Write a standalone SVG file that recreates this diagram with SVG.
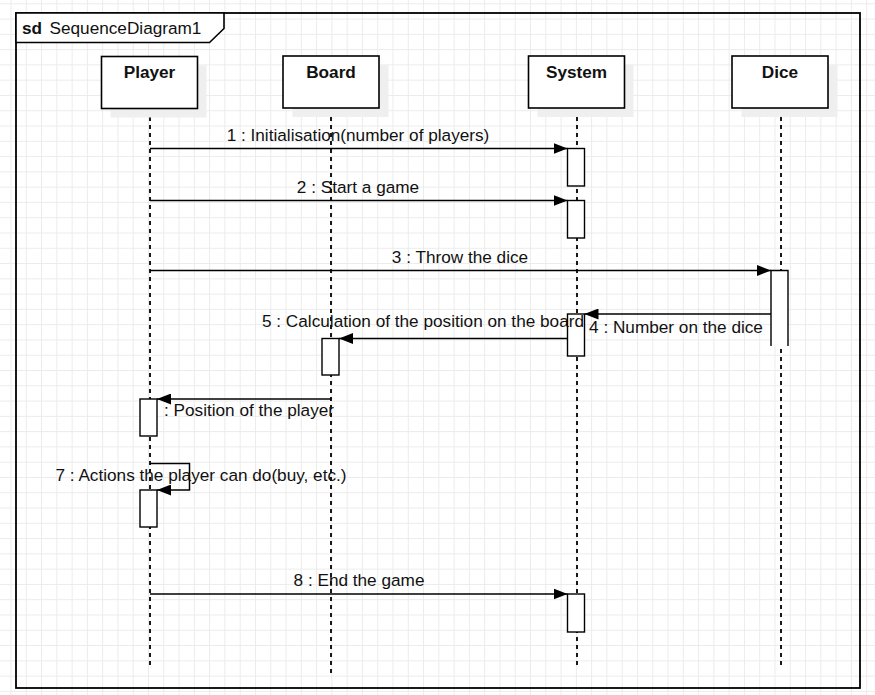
<svg xmlns="http://www.w3.org/2000/svg" width="875" height="695" viewBox="0 0 875 695">
<style>
  .t { font-family: "Liberation Sans", Arial, sans-serif; font-size: 17.2px; fill: #111; }
  .b { font-weight: bold; }
  .m { text-anchor: middle; }
  .box { fill: #fff; stroke: #000; stroke-width: 1.6; }
  .sh { fill: #efefef; stroke: none; }
  .life { stroke: #000; stroke-width: 1.8; stroke-dasharray: 4 4; fill: none; }
  .act { fill: #fff; stroke: #000; stroke-width: 1.4; }
  .msg { stroke: #000; stroke-width: 1.5; fill: none; marker-end: url(#arr); }
</style>
<defs>
  <pattern id="grid" width="15.28" height="15.28" patternUnits="userSpaceOnUse" x="10.5" y="3.3">
    <path d="M0,0.5 H15.28 M0.5,0 V15.28" stroke="#ebebeb" stroke-width="1" fill="none"/>
  </pattern>
  <marker id="arr" viewBox="0 0 14 11" refX="14" refY="5.5" markerWidth="14" markerHeight="11" markerUnits="userSpaceOnUse" orient="auto">
    <path d="M0,0 L14,5.5 L0,11 Z" fill="#000"/>
  </marker>
</defs>
<rect x="0" y="0" width="875" height="695" fill="#fff"/>
<rect x="0" y="0" width="875" height="695" fill="url(#grid)"/>

<g id="frame">
  <rect x="16" y="13" width="844" height="675" fill="none" stroke="#000" stroke-width="1.8"/>
  <path d="M16,13 H224 V28.5 L209.5,42.5 H16 Z" fill="#fff" stroke="#000" stroke-width="1.6"/>
  <text x="22" y="33.5" class="t b">sd</text>
  <text x="49.5" y="33.5" class="t">SequenceDiagram1</text>
</g>

<g id="lifelines">
  <line class="life" x1="150" y1="109" x2="150" y2="666"/>
  <line class="life" x1="331" y1="109" x2="331" y2="677"/>
  <line class="life" x1="577" y1="109" x2="577" y2="666"/>
  <line class="life" x1="781" y1="109" x2="781" y2="666"/>
</g>

<g id="node-player">
  <rect class="sh" x="110.5" y="65.5" width="96" height="52"/>
  <rect class="box" x="101.5" y="56.5" width="96" height="52"/>
  <text x="149.5" y="78" class="t b m">Player</text>
</g>
<g id="node-board">
  <rect class="sh" x="292.5" y="65" width="96" height="52"/>
  <rect class="box" x="283" y="56" width="96" height="52"/>
  <text x="331" y="78" class="t b m">Board</text>
</g>
<g id="node-system">
  <rect class="sh" x="537.5" y="65" width="96" height="52"/>
  <rect class="box" x="528.5" y="56" width="96" height="52"/>
  <text x="576.5" y="78" class="t b m">System</text>
</g>
<g id="node-dice">
  <rect class="sh" x="741.5" y="65" width="96" height="52"/>
  <rect class="box" x="732" y="56" width="96" height="52"/>
  <text x="780" y="78" class="t b m">Dice</text>
</g>

<g id="activations">
  <rect class="act" x="567.5" y="148.5" width="17" height="37.5"/>
  <rect class="act" x="567.5" y="200.5" width="17" height="37.5"/>
  <rect x="771" y="270.5" width="17" height="75.5" fill="#fff" stroke="none"/>
  <path d="M771,346 V270.5 H788 V346" fill="none" stroke="#000" stroke-width="1.4"/>
  <rect class="act" x="567.5" y="314" width="17" height="42"/>
  <rect class="act" x="322" y="338.5" width="17" height="36.5"/>
  <rect class="act" x="140" y="399" width="17" height="37"/>
  <rect class="act" x="140" y="490" width="17" height="37"/>
  <rect class="act" x="567.5" y="594" width="17" height="38"/>
</g>

<g id="connectors">
  <line class="msg" x1="150" y1="148.5" x2="567.5" y2="148.5"/>
  <line class="msg" x1="150" y1="200.5" x2="567.5" y2="200.5"/>
  <line class="msg" x1="150" y1="270.5" x2="771" y2="270.5"/>
  <line class="msg" x1="771" y1="314" x2="584.5" y2="314"/>
  <line class="msg" x1="567.5" y1="338.5" x2="339" y2="338.5"/>
  <line class="msg" x1="331" y1="399" x2="157" y2="399"/>
  <path class="msg" d="M150,463.5 H189.5 V490 H157"/>
  <line class="msg" x1="150" y1="594" x2="567.5" y2="594"/>
</g>

<g id="labels">
  <text x="358" y="140.5" class="t m">1 : Initialisation(number of players)</text>
  <text x="358" y="192.5" class="t m">2 : Start a game</text>
  <text x="460" y="262.5" class="t m">3 : Throw the dice</text>
  <text x="676" y="333" class="t m">4 : Number on the dice</text>
  <text x="423" y="327" class="t m">5 : Calculation of the position on the board</text>
  <text x="249" y="416" class="t m">: Position of the player</text>
  <text x="201" y="481" class="t m">7 : Actions the player can do(buy, etc.)</text>
  <text x="359" y="586" class="t m">8 : End the game</text>
</g>
</svg>
